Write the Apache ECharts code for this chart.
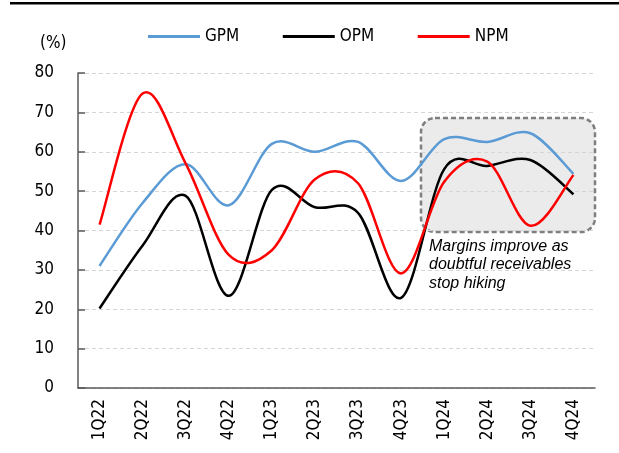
<!DOCTYPE html>
<html>
<head>
<meta charset="utf-8">
<script src="https://cdn.jsdelivr.net/npm/echarts@6/dist/echarts.min.js"></script>
<style>
html,body{margin:0;padding:0;background:#fff;}
#chart{width:619px;height:453px;}
</style>
</head>
<body>
<div id="chart"></div>
<script>
const categories = ['1Q22','2Q22','3Q22','4Q22','1Q23','2Q23','3Q23','4Q23','1Q24','2Q24','3Q24','4Q24'];
const gpm = [31.0, 47.0, 56.8, 46.4, 62.0, 60.0, 62.5, 52.6, 63.2, 62.5, 64.7, 54.4];
const opm = [20.2, 36.2, 48.8, 23.4, 50.3, 45.9, 44.5, 22.9, 55.6, 56.4, 57.9, 49.2];
const npm = [41.5, 74.8, 57.0, 33.8, 35.0, 53.0, 52.0, 29.1, 52.4, 57.5, 41.2, 54.1];
const yTicks = { min: 0, max: 80, interval: 10 };
const seriesNames = ['GPM', 'OPM', 'NPM'];
const unitLabel = '(%)';
const noteLines = ['Margins improve as', 'doubtful receivables', 'stop hiking'];

const FONT = "'DejaVu Sans Condensed', 'DejaVu Sans', sans-serif";
const chart = echarts.init(document.getElementById('chart'), null, { renderer: 'canvas' });

// Smooth curve (Catmull-Rom style, like spreadsheet "smoothed line") through
// points placed by the chart's own axes via api.coord.
function smoothSeries(name, values, color) {
  return {
    name: name, type: 'custom', z: 3,
    itemStyle: { color: color },
    data: values.map((v, i) => [i, v]),
    encode: { x: 0, y: 1 },
    renderItem: function (params, api) {
      if (params.dataIndex !== 0) return null;
      const pts = values.map((v, i) => api.coord([i, v]));
      const n = pts.length;
      let d = 'M' + pts[0][0] + ' ' + pts[0][1];
      for (let i = 0; i < n - 1; i++) {
        const p0 = pts[Math.max(i - 1, 0)];
        const p1 = pts[i];
        const p2 = pts[i + 1];
        const p3 = pts[Math.min(i + 2, n - 1)];
        const c1x = p1[0] + (p2[0] - p0[0]) / 6;
        const c1y = p1[1] + (p2[1] - p0[1]) / 6;
        const c2x = p2[0] - (p3[0] - p1[0]) / 6;
        const c2y = p2[1] - (p3[1] - p1[1]) / 6;
        d += ' C' + c1x + ' ' + c1y + ' ' + c2x + ' ' + c2y + ' ' + p2[0] + ' ' + p2[1];
      }
      return {
        type: 'path',
        shape: { pathData: d },
        style: { fill: 'none', stroke: color, lineWidth: 2.5, lineJoin: 'round', lineCap: 'butt' },
        silent: true
      };
    }
  };
}

chart.setOption({
  backgroundColor: '#ffffff',
  animation: false,
  grid: { left: 78, right: 24, top: 73, bottom: 65, containLabel: false },
  legend: {
    data: seriesNames,
    left: 148, top: 28, padding: 0,
    icon: 'rect', itemWidth: 52, itemHeight: 3, itemGap: 43.5,
    textStyle: { fontFamily: FONT, fontSize: 17, color: '#000' }
  },
  xAxis: {
    type: 'category', data: categories, boundaryGap: true,
    axisLine: { lineStyle: { color: '#5a5a5a', width: 1.5 } },
    axisTick: { inside: true, length: 6, interval: 0, lineStyle: { color: '#5a5a5a', width: 1.5 } },
    axisLabel: { rotate: 90, interval: 0, margin: 11, fontFamily: FONT, fontSize: 17, color: '#000' },
    splitLine: { show: false }
  },
  yAxis: {
    type: 'value', min: yTicks.min, max: yTicks.max, interval: yTicks.interval,
    axisLine: { show: true, lineStyle: { color: '#5a5a5a', width: 1.5 } },
    axisTick: { show: true, inside: true, length: 7, lineStyle: { color: '#5a5a5a', width: 1.5 } },
    axisLabel: { margin: 24, fontFamily: FONT, fontSize: 17, color: '#000' },
    splitLine: { show: true, lineStyle: { color: '#d6d6d6', type: [4, 3], width: 1 } }
  },
  graphic: [
    { type: 'rect', z: 10, shape: { x: 10, y: 2, width: 609, height: 2.5 }, style: { fill: '#000' } },
    { type: 'text', z: 10, style: { x: 40, y: 44, text: unitLabel, fontFamily: FONT, fontSize: 17, fill: '#000', verticalAlign: 'middle' } },
    { type: 'rect', z: -10,
      shape: { x: 421, y: 118, width: 174, height: 114, r: 14 },
      style: { fill: '#ebebeb', stroke: '#7f7f7f', lineWidth: 2.5, lineDash: [5, 3] } },
    { type: 'text', z: 10, style: { x: 429, y: 237, text: noteLines.join('\n'), fontFamily: "'Liberation Sans', Arial, sans-serif", fontStyle: 'italic', fontSize: 16, lineHeight: 18.5, fill: '#000', verticalAlign: 'top' } }
  ],
  series: [
    smoothSeries(seriesNames[0], gpm, '#5b9bd5'),
    smoothSeries(seriesNames[1], opm, '#000000'),
    smoothSeries(seriesNames[2], npm, '#ff0000')
  ]
});
</script>
</body>
</html>
